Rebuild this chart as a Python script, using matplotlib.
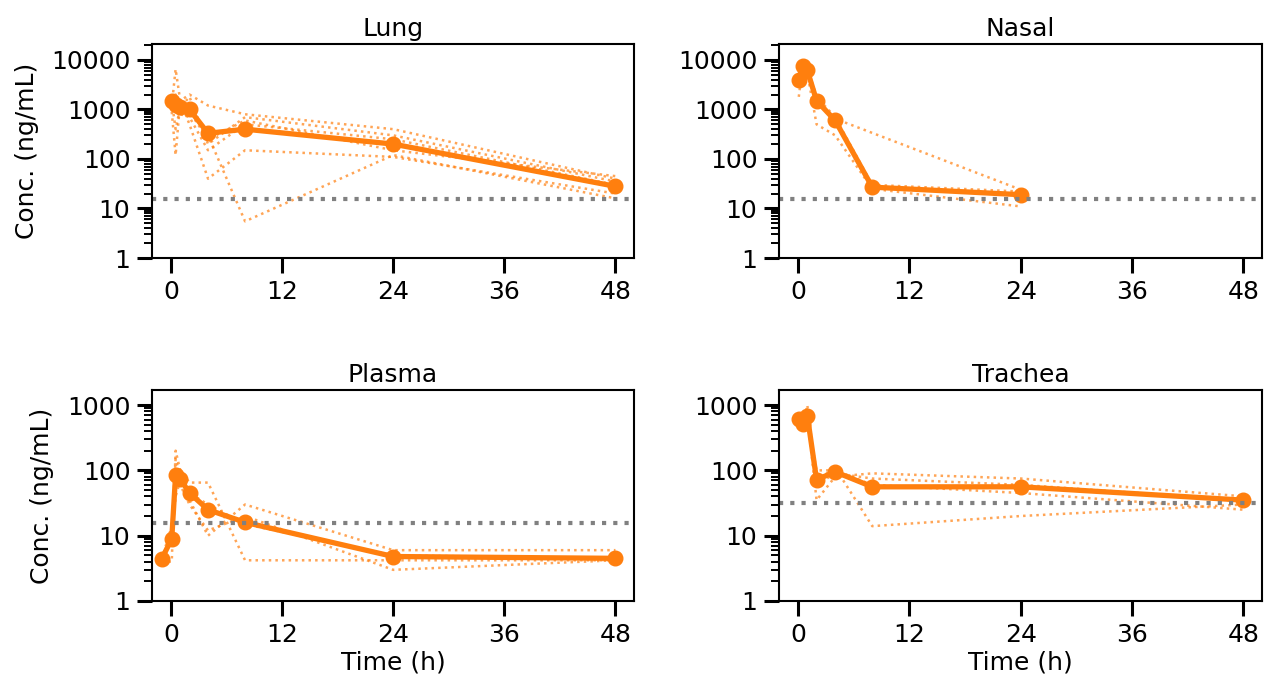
import numpy as np
import matplotlib
matplotlib.use("Agg")
import matplotlib.pyplot as plt
from matplotlib.ticker import LogLocator, FuncFormatter, NullFormatter

# sampling times (h)
t_lung = [0.083, 0.5, 1, 2, 4, 8, 24, 48]
t_nasal = [0.083, 0.5, 1, 2, 4, 8, 24]
t_plasma = [-1, 0.083, 0.5, 1, 2, 4, 8, 24, 48]
t_trachea = [0.083, 0.5, 1, 2, 4, 8, 24, 48]

# mean concentrations (ng/mL)
mean_lung = [1500, 1250, 1100, 1000, 330, 400, 200, 28]
mean_nasal = [4000, 7500, 6200, 1500, 600, 27, 19]
mean_plasma = [4.4, 9, 86, 74, 45, 25, 16, 4.8, 4.5]
mean_trachea = [620, 520, 690, 72, 95, 56, 56, 35]

# individual profiles
ind_lung = [
    [1200, 6500, 1500, 2000, 1200, 800, 400, 40],
    [900, 120, 1500, 500, 40, 150, 110, 20],
    [1500, 400, 1100, 1800, 200, 700, 300, 35],
    [2000, 1000, 700, 1200, 300, 5.5, 120, 16],
    [1800, 900, 1300, 900, 250, 600, 150, 45],
    [1100, 2000, 800, 700, 150, 500, 250, 30],
]
ind_nasal = [
    [1800, 8000, 7000, 1800, 700, 30, 22],
    [5000, 7000, 5500, 500, 300, 25, 11],
    [4500, 7500, 6500, 1600, 650, np.nan, 24],
]
ind_plasma = [
    [4.0, 4.0, 200, 100, 65, 65, 4.2, 4.2, 4.2],
    [4.4, 14, 150, 80, 35, 10, 30, 6, 6],
    [4.4, 8, 60, 60, 30, 12, 20, 3, 4.2],
    [4.4, 9, 40, 70, 45, 30, 15, 5, 4.5],
]
ind_trachea = [
    [600, 450, 1000, 70, 110, 14, 20, 30],
    [650, 600, 700, 35, 80, 90, 75, 40],
    [550, 500, 600, 100, 100, 60, 45, 25],
    [700, 550, 800, 60, 90, 75, 60, 35],
]

lloq = {"Lung": 15.6, "Nasal": 15.6, "Plasma": 15.6, "Trachea": 31.25}

panels = [
    ("Lung", t_lung, mean_lung, ind_lung),
    ("Nasal", t_nasal, mean_nasal, ind_nasal),
    ("Plasma", t_plasma, mean_plasma, ind_plasma),
    ("Trachea", t_trachea, mean_trachea, ind_trachea),
]

W, H = 1264, 681
# axes boxes in pixels: left, top, right, bottom
boxes = [
    (152, 44, 634, 258),
    (779, 44, 1262, 258),
    (152, 390, 634, 601),
    (779, 390, 1262, 601),
]
ylims = [(1, 2.1e4), (1, 2.1e4), (1, 1700), (1, 1700)]

orange = "#ff7f0e"
fig = plt.figure(figsize=(W / 100, H / 100), dpi=100)

for i, (name, t, mean, inds) in enumerate(panels):
    l, tp, r, b = boxes[i]
    ax = fig.add_axes([l / W, 1 - b / H, (r - l) / W, (b - tp) / H])
    tt = np.array(t, dtype=float)
    for ind in inds:
        v = np.array(ind, dtype=float)
        m = ~np.isnan(v)
        ax.plot(tt[m], v[m], ls=":", color=orange, lw=1.8, alpha=0.7)
    ax.plot(tt, mean, "-o", color=orange, lw=3.8, ms=10.5)
    ax.axhline(lloq[name], color="gray", lw=3, ls=(0, (1, 1.7)))

    ax.set_yscale("log")
    ax.set_xlim(-2.05, 50.0)
    ax.set_ylim(*ylims[i])
    ax.set_xticks([0, 12, 24, 36, 48])
    ax.yaxis.set_major_locator(LogLocator(base=10, numticks=10))
    ax.yaxis.set_minor_locator(LogLocator(base=10, subs=np.arange(2, 10), numticks=20))
    ax.yaxis.set_major_formatter(FuncFormatter(lambda y, p: "%d" % round(y)))
    ax.yaxis.set_minor_formatter(NullFormatter())
    ax.tick_params(which="major", length=10.5, width=2.2, labelsize=18, pad=5)
    ax.tick_params(which="minor", length=6, width=1.4)
    for s in ax.spines.values():
        s.set_linewidth(1.5)
    ax.set_title(name, fontsize=18, pad=6)
    if i % 2 == 0:
        ax.set_ylabel("Conc. (ng/mL)", fontsize=18, labelpad=9)
    if i >= 2:
        ax.set_xlabel("Time (h)", fontsize=18, labelpad=3)

fig.savefig("out.png", dpi=100)
